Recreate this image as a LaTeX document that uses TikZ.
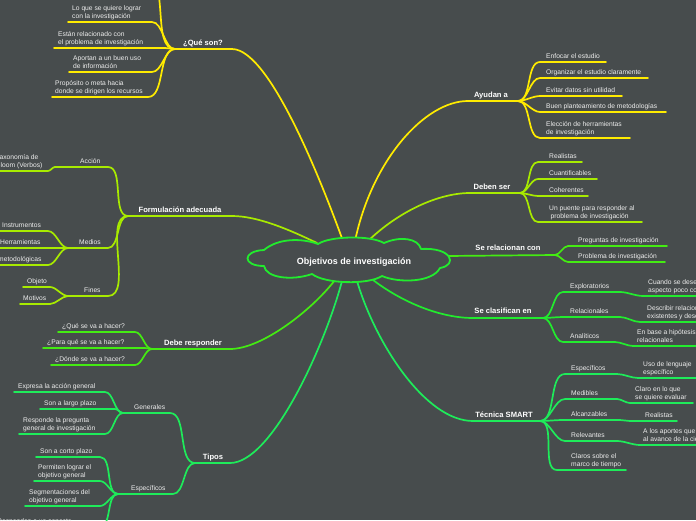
\documentclass[tikz,border=0pt]{standalone}
\usepackage{fontspec}
\setmainfont{Liberation Sans}
\usetikzlibrary{calc}
\definecolor{bg}{HTML}{474C4D}
\definecolor{yel}{HTML}{FFEB00}
\definecolor{lime}{HTML}{A8EB00}
\definecolor{grnA}{HTML}{44EB12}
\definecolor{grnB}{HTML}{22EB2E}
\definecolor{grnC}{HTML}{1EEB5A}
\definecolor{txt}{HTML}{EEEEEE}
\tikzset{
 conn/.style={line width=1.7pt, line cap=round},
 leaf/.style={text=txt, font=\fontsize{6.7}{8}\selectfont, inner sep=0pt, align=left, anchor=south west, text depth=1.5pt},
 blbl/.style={text=white, font=\bfseries\fontsize{7.6}{9}\selectfont, inner sep=0pt, anchor=base},
 cloudline/.style={draw=grnB, line width=1.8pt, line join=round},
 centertext/.style={text=white, font=\bfseries\fontsize{9}{11}\selectfont, inner sep=0pt}
}
\newcommand{\lchild}[8]{%
 \coordinate (#1-r) at (#5,#6);
 \coordinate (#1-l) at (#4,#6);
 \draw[conn,#3] (#2) to[out=180,in=0,looseness=0.8] (#1-r) -- (#1-l);
 \node[leaf] (#1) at (#7,{#6-2}) {#8};}
\newcommand{\rchild}[8]{%
 \coordinate (#1-l) at (#4,#6);
 \coordinate (#1-r) at (#5,#6);
 \draw[conn,#3] (#2) to[out=0,in=180,looseness=0.8] (#1-l) -- (#1-r);
 \node[leaf] (#1) at (#7,{#6-2}) {#8};}
\begin{document}
\begin{tikzpicture}[x=1pt,y=-1pt]
\useasboundingbox (0,0) rectangle (696,520);
\fill[bg] (0,0) rectangle (696,520);

% ---- Que son
\coordinate (cq) at (343,241); \coordinate (qE) at (232,49); \coordinate (qH) at (175,49);
\draw[conn,yel] (cq) .. controls (328,200) and (272,49) .. (qE) -- (qH);
\node[blbl] (q) at (203,45) {¿Qué son?};
\coordinate (q0-r) at (146,-22); \coordinate (q0-l) at (60,-22);
\draw[conn,yel] (qH) to[out=180,in=0,looseness=0.8] (q0-r) -- (q0-l);
\lchild{q1}{qH}{yel}{68}{152}{22}{72}{Lo que se quiere lograr\\con la investigación}
\lchild{q2}{qH}{yel}{54}{165}{48}{58}{Están relacionado con\\el problema de investigación}
\lchild{q3}{qH}{yel}{69}{152}{72}{73}{Aportan a un buen uso\\de información}
\lchild{q4}{qH}{yel}{52}{148}{97}{55}{Propósito o meta hacia\\donde se dirigen los recursos}

% ---- Formulacion
\coordinate (cf) at (317,243); \coordinate (fE) at (232,216); \coordinate (fH) at (128,216);
\draw[conn,lime] (cf) .. controls (290,230) and (258,216) .. (fE) -- (fH);
\node[blbl] (f) at (180,212) {Formulación adecuada};
\lchild{fa}{fH}{lime}{55}{108}{167}{80}{Acción}
\lchild{fab}{fa-l}{lime}{-10}{48}{171}{-4}{Taxonomía de\\Bloom (Verbos)}
\lchild{fm}{fH}{lime}{68}{108}{248}{79}{Medios}
\lchild{fm1}{fm-l}{lime}{-10}{48}{231}{2}{Instrumentos}
\lchild{fm2}{fm-l}{lime}{-10}{60}{248}{0}{Herramientas}
\lchild{fm3}{fm-l}{lime}{-10}{48}{265}{-2}{metodológicas}
\lchild{ff}{fH}{lime}{68}{108}{296}{84}{Fines}
\lchild{ff1}{ff-l}{lime}{23}{50}{287}{27}{Objeto}
\lchild{ff2}{ff-l}{lime}{20}{50}{304}{23}{Motivos}

% ---- Debe responder
\coordinate (cd) at (335,280); \coordinate (dE) at (230,349); \coordinate (dH) at (152,349);
\draw[conn,grnA] (cd) .. controls (312,310) and (262,349) .. (dE) -- (dH);
\node[blbl] (d) at (193,345.5) {Debe responder};
\lchild{d1}{dH}{grnA}{58}{135}{332}{62}{¿Qué se va a hacer?}
\lchild{d2}{dH}{grnA}{43}{145}{348}{47}{¿Para qué se va a hacer?}
\lchild{d3}{dH}{grnA}{51}{135}{365}{55}{¿Dónde se va a hacer?}

% ---- Tipos
\coordinate (ct) at (342,281); \coordinate (tE) at (230,463); \coordinate (tH) at (195,463);
\draw[conn,grnC] (ct) .. controls (325,345) and (272,463) .. (tE) -- (tH);
\node[blbl] (t) at (213,459) {Tipos};
\lchild{tg}{tH}{grnC}{123}{170}{413}{134}{Generales}
\lchild{tg1}{tg-l}{grnC}{14}{105}{392}{18}{Expresa la acción general}
\lchild{tg2}{tg-l}{grnC}{40}{115}{409}{44}{Son a largo plazo}
\lchild{tg3}{tg-l}{grnC}{19}{105}{434}{23}{Responde la pregunta\\general de investigación}
\lchild{te}{tH}{grnC}{118}{173}{494}{131}{Específicos}
\lchild{te1}{te-l}{grnC}{36}{100}{457}{40}{Son a corto plazo}
\lchild{te2}{te-l}{grnC}{34}{100}{481}{38}{Permiten lograr el\\objetivo general}
\lchild{te3}{te-l}{grnC}{25}{100}{506}{29}{Segmentaciones del\\objetivo general}
\lchild{te4}{te-l}{grnC}{-10}{100}{527}{-3}{Responden a un aspecto}

% ---- Ayudan a
\coordinate (ca) at (355,241); \coordinate (aE) at (468,101); \coordinate (aH) at (518,101);
\draw[conn,yel] (ca) .. controls (372,160) and (425,101) .. (aE) -- (aH);
\node[blbl] (a) at (491,97) {Ayudan a};
\rchild{a1}{aH}{yel}{540}{606}{62}{546}{Enfocar el estudio}
\rchild{a2}{aH}{yel}{540}{648}{78}{546}{Organizar el estudio claramente}
\rchild{a3}{aH}{yel}{540}{622}{96}{546}{Evitar datos sin utilidad}
\rchild{a4}{aH}{yel}{540}{666}{112}{546}{Buen planteamiento de metodologías}
\rchild{a5}{aH}{yel}{540}{630}{138}{546}{Elección de herramientas\\de investigación}

% ---- Deben ser
\coordinate (cb) at (368,241); \coordinate (bE) at (470,193); \coordinate (bH) at (520,193);
\draw[conn,lime] (cb) .. controls (398,212) and (438,193) .. (bE) -- (bH);
\node[blbl] (b) at (492,189) {Deben ser};
\rchild{b1}{bH}{lime}{538}{582}{162}{549}{Realistas}
\rchild{b2}{bH}{lime}{538}{597}{179}{549}{Cuantificables}
\rchild{b3}{bH}{lime}{538}{588}{196}{549}{Coherentes}
\rchild{b4}{bH}{lime}{538}{642}{222}{549}{Un puente para responder al\\\hspace*{1.5pt}problema de investigación}

% ---- Se relacionan con
\coordinate (cr) at (447,256); \coordinate (rH) at (555,255);
\draw[conn,grnA] (cr) -- (rH);
\node[blbl] (r) at (508,250) {Se relacionan con};
\rchild{r1}{rH}{grnA}{568}{667}{246}{578}{Preguntas de investigación}
\rchild{r2}{rH}{grnA}{568}{665}{262}{578}{Problema de investigación}

% ---- Se clasifican en
\coordinate (cc) at (373,280); \coordinate (sE) at (473,318); \coordinate (sH) at (543,318);
\draw[conn,grnB] (cc) .. controls (402,302) and (440,318) .. (sE) -- (sH);
\node[blbl] (s) at (503,313) {Se clasifican en};
\rchild{s1}{sH}{grnB}{563}{620}{292}{570}{Exploratorios}
\rchild{s1g}{s1-r}{grnB}{643}{705}{296}{648}{Cuando se desea examinar un\\aspecto poco conocido}
\rchild{s2}{sH}{grnB}{563}{620}{317}{570}{Relacionales}
\rchild{s2g}{s2-r}{grnB}{640}{705}{322}{647}{Describir relaciones\\existentes y descubrir}
\rchild{s3}{sH}{grnB}{563}{615}{342}{570}{Analíticos}
\rchild{s3g}{s3-r}{grnB}{633}{705}{346}{637}{En base a hipótesis\\relacionales}

% ---- Tecnica SMART
\coordinate (cs) at (357,281); \coordinate (mE) at (473,421); \coordinate (mH) at (540,421);
\draw[conn,grnC] (cs) .. controls (375,342) and (425,421) .. (mE) -- (mH);
\node[blbl] (m) at (504,417) {Técnica SMART};
\rchild{m1}{mH}{grnC}{565}{617}{374}{571}{Específicos}
\rchild{m1g}{m1-r}{grnC}{638}{705}{378}{643}{Uso de lenguaje\\específico}
\rchild{m2}{mH}{grnC}{565}{617}{399}{571}{Medibles}
\rchild{m2g}{m2-r}{grnC}{630}{693}{403}{635}{Claro en lo que\\se quiere evaluar}
\rchild{m3}{mH}{grnC}{563}{620}{420}{571}{Alcanzables}
\rchild{m3g}{m3-r}{grnC}{630}{677}{421}{645}{Realistas}
\rchild{m4}{mH}{grnC}{565}{617}{441}{571}{Relevantes}
\rchild{m4g}{m4-r}{grnC}{640}{705}{445}{643}{A los aportes que hacen\\al avance de la ciencia}
\rchild{m5}{mH}{grnC}{557}{626}{470}{571}{Claros sobre el\\marco de tiempo}

% ---- central cloud
\fill[bg, cloudline] (264,250)
  .. controls (278,238) and (302,238) .. (318,244)
  .. controls (330,236) and (370,235) .. (384,243)
  .. controls (400,236) and (418,238) .. (421,249)
  .. controls (452,247) and (458,265) .. (440,268)
  .. controls (432,283) and (398,283) .. (382,276)
  .. controls (368,285) and (325,284) .. (312,274)
  .. controls (292,281) and (266,278) .. (264,266)
  .. controls (242,266) and (242,251) .. cycle;
\node[centertext] (c) at (354,262) {Objetivos de investigación};
\end{tikzpicture}
\end{document}
